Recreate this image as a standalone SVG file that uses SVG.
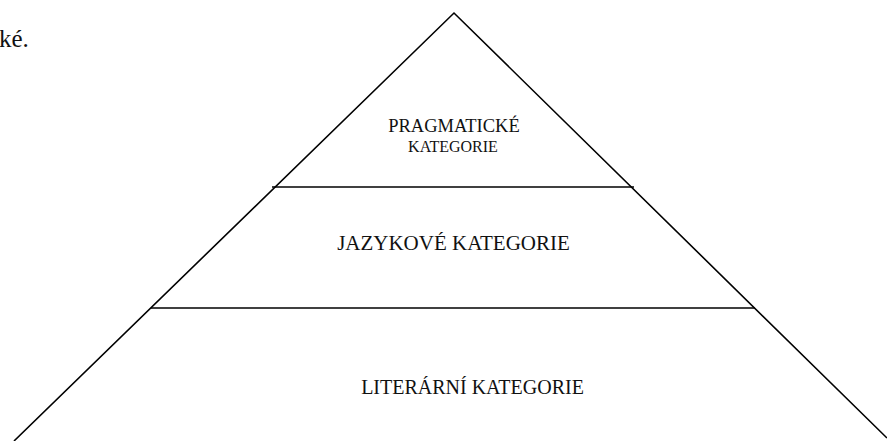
<svg xmlns="http://www.w3.org/2000/svg" width="887" height="441" viewBox="0 0 887 441">
<style>
.ln{stroke:#000;stroke-width:1.6;fill:none}
.t{font-family:"Liberation Serif","Times New Roman",serif;fill:#111;text-anchor:middle}
</style>
<rect width="887" height="441" fill="#fff"/>
<text x="-1" y="47" font-family="Liberation Serif, serif" font-size="25" fill="#111">ké.</text>
<g id="connectors">
<polyline class="ln" points="14,441 454,13 887,438"/>
</g>
<g id="pragmaticke">
<line class="ln" x1="272" y1="187" x2="634" y2="187"/>
<text class="t" x="454" y="132" font-size="18.5">PRAGMATICKÉ</text>
<text class="t" x="453" y="152" font-size="16">KATEGORIE</text>
</g>
<g id="jazykove">
<line class="ln" x1="151" y1="308" x2="755" y2="308"/>
<text class="t" x="453.5" y="250" font-size="21">JAZYKOVÉ KATEGORIE</text>
</g>
<g id="literarni">
<text class="t" x="472.5" y="394" font-size="20">LITERÁRNÍ KATEGORIE</text>
</g>
</svg>
